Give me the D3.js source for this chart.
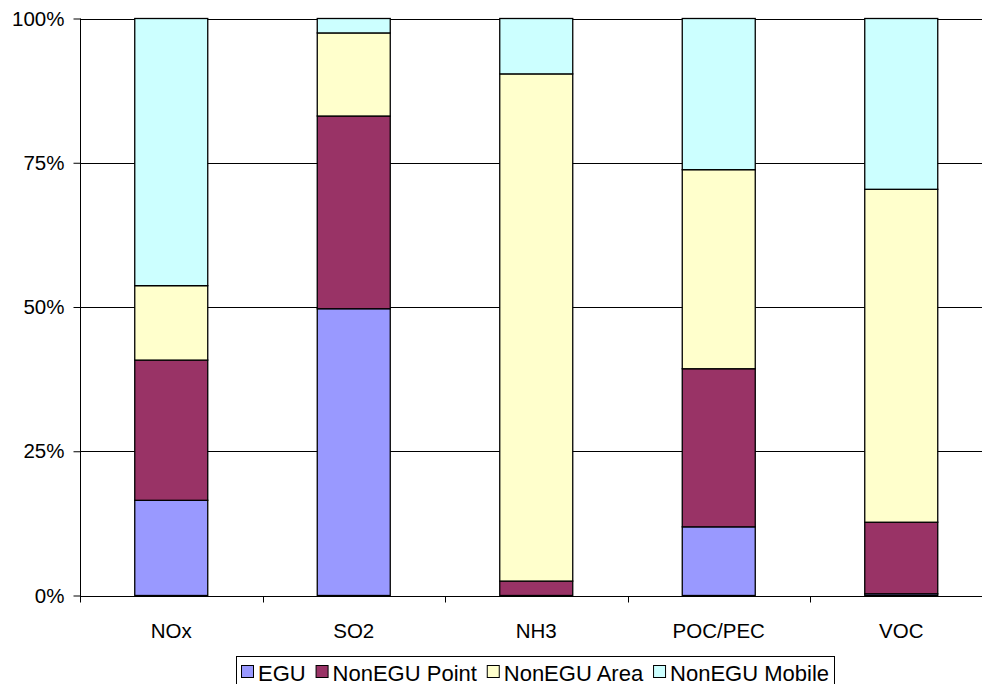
<!DOCTYPE html>
<html><head><meta charset="utf-8">
<script src="https://cdn.jsdelivr.net/npm/d3@7"></script>
<style>body{margin:0;background:#fff}svg{display:block;font-family:"Liberation Sans",Arial,sans-serif}</style>
</head><body>
<svg id="c" width="982" height="684"></svg>
<script>
const categories = ["NOx", "SO2", "NH3", "POC/PEC", "VOC"];
const seriesNames = ["EGU", "NonEGU Point", "NonEGU Area", "NonEGU Mobile"];
const seriesColors = ["#9999FF", "#993366", "#FFFFCC", "#CCFFFF"];
// percentage shares per category (EGU, NonEGU Point, NonEGU Area, NonEGU Mobile)
const egu    = [16.5, 49.7, 0.0, 11.9, 0.3];
const point  = [24.3, 33.4, 2.5, 27.4, 12.4];
const area   = [12.9, 14.4, 87.9, 34.5, 57.7];
const mobile = [46.3, 2.5, 9.6, 26.2, 29.6];
const yTicks = [0, 25, 50, 75, 100];
const yTickLabels = ["0%", "25%", "50%", "75%", "100%"];

(function () {
const svg = d3.select("#c");
const mLeft = 80, mRight = 992.5, mTop = 18.5, mBottom = 595.5;
const x = d3.scaleBand().domain(categories).range([mLeft, mRight]).padding(0);
const y = d3.scaleLinear().domain([0, 100]).range([mBottom, mTop]);
const barW = x.bandwidth() * 0.4;

const rows = categories.map((c, i) => ({cat: c, "EGU": egu[i], "NonEGU Point": point[i], "NonEGU Area": area[i], "NonEGU Mobile": mobile[i]}));
const stack = d3.stack().keys(seriesNames).offset(d3.stackOffsetExpand)(rows);

// gridlines
svg.append("g").selectAll("line").data(yTicks.slice(1)).join("line")
  .attr("x1", mLeft).attr("x2", 982)
  .attr("y1", d => Math.round(y(d)) + 0.5).attr("y2", d => Math.round(y(d)) + 0.5)
  .attr("stroke", "#000").attr("stroke-width", 1);

// bars
stack.forEach((s, si) => {
  svg.append("g").selectAll("rect").data(s).join("rect")
    .attr("x", d => x(d.data.cat) + x.bandwidth() / 2 - barW / 2)
    .attr("width", barW)
    .attr("y", d => y(d[1] * 100))
    .attr("height", d => Math.max(0, y(d[0] * 100) - y(d[1] * 100)))
    .attr("fill", seriesColors[si])
    .attr("stroke", "#000").attr("stroke-width", 1.3);
});

// y axis
const yAxis = svg.append("g").attr("transform", `translate(${mLeft + 0.5},0)`)
  .call(d3.axisLeft(y).tickValues(yTicks).tickFormat((d, i) => yTickLabels[i]).tickSize(7).tickPadding(9));
yAxis.select(".domain").attr("d", `M0,${mTop}V${mBottom + 7}`).attr("stroke", "#000");
yAxis.selectAll("text").attr("font-size", 20.5).attr("font-family", "Liberation Sans, Arial, sans-serif").attr("fill", "#000");
yAxis.selectAll(".tick line").attr("stroke", "#000");

// x axis
const xa = svg.append("g").attr("transform", `translate(0,${Math.round(mBottom) + 0.5})`);
xa.append("line").attr("x1", mLeft).attr("x2", 982).attr("stroke", "#000");
xa.selectAll("line.t").data(categories.slice(1)).join("line").attr("class", "t")
  .attr("x1", d => Math.round(x(d)) + 0.5).attr("x2", d => Math.round(x(d)) + 0.5)
  .attr("y1", 0).attr("y2", 6).attr("stroke", "#000");
xa.selectAll("text").data(categories).join("text")
  .attr("x", d => x(d) + x.bandwidth() / 2).attr("y", 41)
  .attr("text-anchor", "middle").attr("font-size", 20.5).text(d => d);

// legend
const lg = svg.append("g");
const boxX = 236, boxW = 598;
lg.append("rect").attr("x", boxX + 0.5).attr("y", 656.5).attr("width", boxW).attr("height", 40)
  .attr("fill", "#fff").attr("stroke", "#000");
const items = seriesNames.map((n, i) => {
  const g = lg.append("g");
  g.append("rect").attr("x", 0.5).attr("y", 665.5).attr("width", 12).attr("height", 12)
    .attr("fill", seriesColors[i]).attr("stroke", "#000");
  const t = g.append("text").attr("x", 17).attr("y", 681).attr("font-size", 22).text(n);
  return {g, w: 17 + t.node().getComputedTextLength()};
});
const total = d3.sum(items, d => d.w);
const gap = (boxW - 10 - total) / (items.length - 1);
let cx = boxX + 5;
items.forEach(it => { it.g.attr("transform", `translate(${cx},0)`); cx += it.w + gap; });
})();
</script>
</body></html>
